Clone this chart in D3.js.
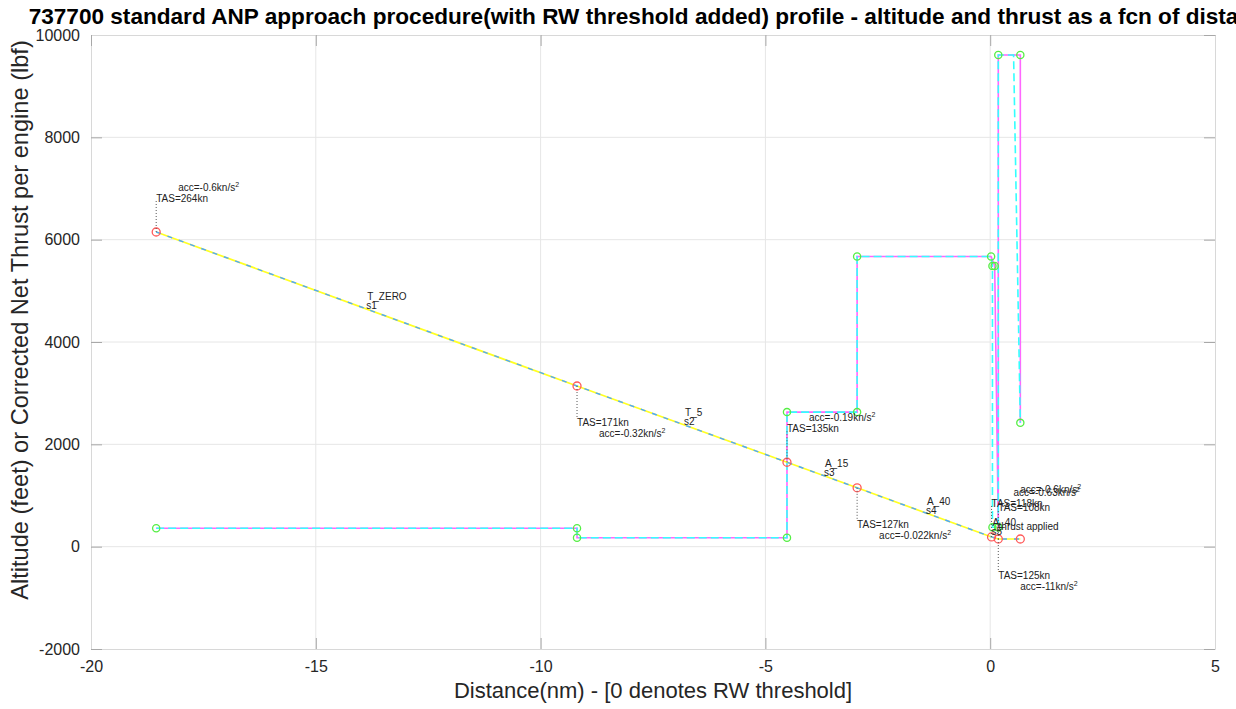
<!DOCTYPE html>
<html>
<head>
<meta charset="utf-8">
<script src="https://cdn.jsdelivr.net/npm/d3@7"></script>
<style>
  html, body { margin: 0; padding: 0; background: #fff; }
  svg { display: block; font-family: "Liberation Sans", Arial, Helvetica, sans-serif; }
</style>
</head>
<body>
<svg id="chart" width="1236" height="709"></svg>
<script>
// ---- axis ticks ----
const xTicks = [-20, -15, -10, -5, 0, 5];
const yTicks = [-2000, 0, 2000, 4000, 6000, 8000, 10000];

// ---- altitude profile (ft) against distance to threshold (nm) ----
const altDist = [-18.55, -9.19, -4.52, -2.96, 0.03, 0.18, 0.67];
const altFeet = [6150, 3140, 1650, 1150, 190, 150, 150];

// ---- corrected net thrust per engine (lbf), two evaluations ----
const thrustDistA = [-18.55, -9.19, -9.19, -4.52, -4.52, -2.96, -2.96, 0.02, 0.10, 0.18, 0.18, 0.67, 0.67];
const thrustA     = [360, 360, 175, 175, 2630, 2630, 5670, 5670, 5485, 380, 9610, 9610, 2420];
const thrustDistB = [-18.55, -9.19, -9.19, -4.52, -4.52, -2.96, -2.96, 0.02, 0.05, 0.05, 0.18, 0.18, 0.52, 0.67];
const thrustB     = [360, 360, 175, 175, 2630, 2630, 5670, 5670, 5485, 380, 380, 9610, 9610, 2420];

// ---- speed / acceleration annotations ----
const tasDist = [-18.55, -9.19, -4.52, -2.96, 0.03, 0.18, 0.18];
const tasAlt  = [6150, 3140, 1650, 1150, 190, 150, 150];
const tasText = ["TAS=264kn", "TAS=171kn", "TAS=135kn", "TAS=127kn", "TAS=118kn", "TAS=125kn", "TAS=108kn"];
const accText = ["acc=-0.6kn/s", "acc=-0.32kn/s", "acc=-0.19kn/s", "acc=-0.022kn/s", "acc=-0.63kn/s", "acc=-11kn/s", "acc=-0.6kn/s"];
const tasSide = ["above", "below", "above", "below", "above", "below", "above2"];

// ---- procedure step annotations ----
const stepDist = [-13.79, -6.72, -3.61, -1.34, 0.12];
const stepAlt  = [4620, 2355, 1355, 625, 200];
const stepName = ["T_ZERO", "T_5", "A_15", "A_40", "A_40"];
const stepSeg  = ["s1", "s2", "s3", "s4", "s5"];
const noteText = "thrust applied";

// ---- layout ----
const plot = { left: 91, right: 1215, top: 35, bottom: 649 };
const svg = d3.select("#chart");

const x = d3.scaleLinear().domain([-20, 5]).range([plot.left, plot.right]);
const y = d3.scaleLinear().domain([-2000, 10000]).range([plot.bottom, plot.top]);

svg.append("defs").append("clipPath").attr("id", "plotClip")
  .append("rect")
  .attr("x", plot.left).attr("y", plot.top)
  .attr("width", plot.right - plot.left).attr("height", plot.bottom - plot.top);

// grid
const grid = svg.append("g");
grid.selectAll("line.gx").data(xTicks.slice(1, -1)).join("line")
  .attr("x1", d => x(d)).attr("x2", d => x(d))
  .attr("y1", plot.top).attr("y2", plot.bottom)
  .attr("stroke", "#e6e6e6").attr("stroke-width", 1);
grid.selectAll("line.gy").data(yTicks.slice(1, -1)).join("line")
  .attr("y1", d => y(d)).attr("y2", d => y(d))
  .attr("x1", plot.left).attr("x2", plot.right)
  .attr("stroke", "#e6e6e6").attr("stroke-width", 1);

// axes with inward ticks on all sides
const tickLen = 11;
const fmt = d => d < 0 ? "-" + Math.abs(d) : String(d);
const axBottom = d3.axisBottom(x).tickValues(xTicks).tickSizeInner(-tickLen).tickSizeOuter(0).tickFormat(fmt).tickPadding(12);
const axLeft = d3.axisLeft(y).tickValues(yTicks).tickSizeInner(-tickLen).tickSizeOuter(0).tickFormat(fmt).tickPadding(11);
const axTop = d3.axisTop(x).tickValues(xTicks).tickSizeInner(-tickLen).tickSizeOuter(0).tickFormat("");
const axRight = d3.axisRight(y).tickValues(yTicks).tickSizeInner(-tickLen).tickSizeOuter(0).tickFormat("");

function styleAxis(g) {
  g.select(".domain").attr("stroke", "#d8d8d8").attr("stroke-width", 1);
  g.selectAll(".tick line").attr("stroke", "#a8a8a8").attr("stroke-width", 1);
  g.selectAll(".tick text").attr("fill", "#262626").attr("font-size", 16)
    .attr("font-family", "'Liberation Sans', Arial, sans-serif");
}
svg.append("g").attr("transform", `translate(0,${plot.bottom})`).call(axBottom).call(styleAxis);
svg.append("g").attr("transform", `translate(${plot.left},0)`).call(axLeft).call(styleAxis);
svg.append("g").attr("transform", `translate(0,${plot.top})`).call(axTop).call(styleAxis);
svg.append("g").attr("transform", `translate(${plot.right},0)`).call(axRight).call(styleAxis);

// series
const layer = svg.append("g").attr("clip-path", "url(#plotClip)");
const line = d3.line().x(d => x(d[0])).y(d => y(d[1]));
const altPts = altDist.map((d, i) => [d, altFeet[i]]);
const thrA = thrustDistA.map((d, i) => [d, thrustA[i]]);
const thrB = thrustDistB.map((d, i) => [d, thrustB[i]]);

layer.append("path").datum(thrA).attr("d", line)
  .attr("fill", "none").attr("stroke", "#ff66ff").attr("stroke-width", 1.6);
layer.append("path").datum(thrB).attr("d", line)
  .attr("fill", "none").attr("stroke", "#33ffff").attr("stroke-width", 1.6)
  .attr("stroke-dasharray", "8,4");

layer.append("path").datum(altPts).attr("d", line)
  .attr("fill", "none").attr("stroke", "#ffff22").attr("stroke-width", 1.7);
layer.append("path").datum(altPts).attr("d", line)
  .attr("fill", "none").attr("stroke", "#4da6ff").attr("stroke-width", 1.4)
  .attr("stroke-dasharray", "5,7");

// dotted leaders from profile points to their annotations
const side = {
  above:  { tas: -30, acc: -41, lead: -33 },
  below:  { tas: 40, acc: 51, lead: 33 },
  above2: { tas: -28, acc: -46, lead: -30 }
};
const ann = svg.append("g");
tasDist.forEach((d, i) => {
  const px = x(d), py = y(tasAlt[i]);
  const s = side[tasSide[i]];
  ann.append("line")
    .attr("x1", px).attr("x2", px).attr("y1", py).attr("y2", py + s.lead)
    .attr("stroke", "#555").attr("stroke-width", 1).attr("stroke-dasharray", "1,2");
});

// markers
layer.selectAll("circle.thrA").data(thrA).join("circle")
  .attr("cx", d => x(d[0])).attr("cy", d => y(d[1])).attr("r", 3.6)
  .attr("fill", "none").attr("stroke", "#55ee44").attr("stroke-width", 1.3);
layer.selectAll("circle.thrB").data(thrB.slice(8, 11)).join("circle")
  .attr("cx", d => x(d[0])).attr("cy", d => y(d[1])).attr("r", 3.6)
  .attr("fill", "none").attr("stroke", "#55ee44").attr("stroke-width", 1.3);
layer.selectAll("circle.alt").data(altPts).join("circle")
  .attr("cx", d => x(d[0])).attr("cy", d => y(d[1])).attr("r", 4)
  .attr("fill", "none").attr("stroke", "#ff5a5a").attr("stroke-width", 1.3);

// TAS / acc annotations
tasDist.forEach((d, i) => {
  const px = x(d), py = y(tasAlt[i]);
  const s = side[tasSide[i]];
  ann.append("text").attr("x", px).attr("y", py + s.tas)
    .attr("font-size", 10).attr("fill", "#222").text(tasText[i]);
  const t = ann.append("text").attr("x", px + 22).attr("y", py + s.acc)
    .attr("font-size", 10).attr("fill", "#222").text(accText[i]);
  t.append("tspan").attr("dy", -4).attr("font-size", 7).text("2");
});

// procedure step names
stepDist.forEach((d, i) => {
  const px = x(d), py = y(stepAlt[i]);
  ann.append("text").attr("x", px - 3).attr("y", py - 10)
    .attr("font-size", 10).attr("fill", "#222").text(stepName[i]);
  ann.append("text").attr("x", px - 4).attr("y", py - 1)
    .attr("font-size", 10).attr("fill", "#222").text(stepSeg[i]);
});
ann.append("text").attr("x", x(stepDist[4]) + 3).attr("y", y(stepAlt[4]) - 6)
  .attr("font-size", 10).attr("fill", "#222").text(noteText);

// titles
svg.append("text").attr("x", (plot.left + plot.right) / 2).attr("y", 24)
  .attr("text-anchor", "middle").attr("font-size", 22.6).attr("font-weight", "bold")
  .attr("fill", "#000")
  .text("737700 standard ANP approach procedure(with RW threshold added) profile - altitude and thrust as a fcn of distance");

svg.append("text").attr("x", (plot.left + plot.right) / 2).attr("y", 698)
  .attr("text-anchor", "middle").attr("font-size", 22).attr("fill", "#262626")
  .text("Distance(nm) - [0 denotes RW threshold]");

svg.append("text")
  .attr("transform", "translate(28,320) rotate(-90)")
  .attr("text-anchor", "middle").attr("font-size", 23.6).attr("fill", "#262626")
  .text("Altitude (feet) or Corrected Net Thrust per engine (lbf)");
</script>
</body>
</html>
